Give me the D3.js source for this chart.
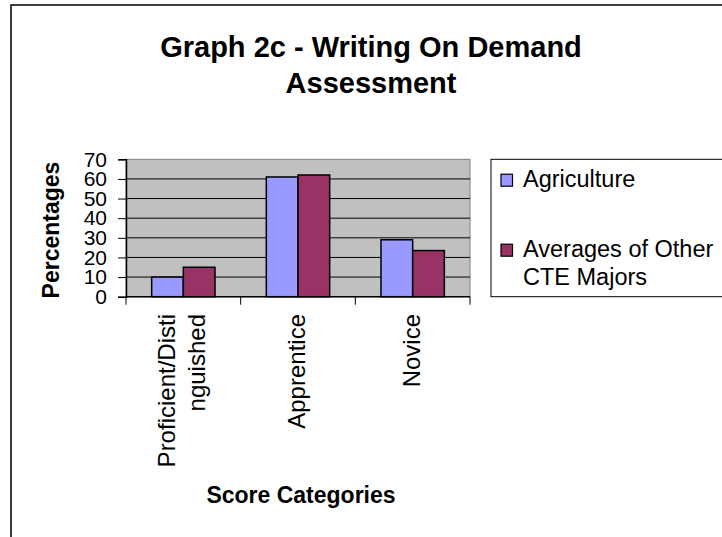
<!DOCTYPE html>
<html>
<head>
<meta charset="utf-8">
<script src="https://cdn.jsdelivr.net/npm/d3@7"></script>
<style>
  html, body { margin: 0; padding: 0; background: #fff; }
  svg { display: block; font-family: "Liberation Sans", Arial, sans-serif; }
</style>
</head>
<body>
<svg id="chart" width="722" height="537"></svg>
<script>
const categories = ["Proficient/Distinguished", "Apprentice", "Novice"];
const categoryLines = [["Proficient/Disti", "nguished"], ["Apprentice"], ["Novice"]];
const seriesNames = ["Agriculture", "Averages of Other CTE Majors"];
const legendLines = [["Agriculture"], ["Averages of Other", "CTE Majors"]];
const agriculture = [10, 61, 29];
const otherMajors = [15, 62, 23.5];
const yTicks = [0, 10, 20, 30, 40, 50, 60, 70];
const titleLines = ["Graph 2c - Writing On Demand", "Assessment"];
const yTitle = "Percentages";
const xTitle = "Score Categories";
const colors = ["#9999ff", "#993366"];

const svg = d3.select("#chart");

// Outer chart border (right/bottom outside the frame)
svg.append("rect")
  .attr("x", 11).attr("y", 5)
  .attr("width", 760).attr("height", 560)
  .attr("fill", "#fff").attr("stroke", "#000").attr("stroke-width", 1.5);

// Title
svg.append("g").selectAll("text").data(titleLines).join("text")
  .attr("x", 371)
  .attr("y", (d, i) => 56.7 + i * 36.6)
  .attr("text-anchor", "middle")
  .attr("font-weight", "bold")
  .attr("font-size", 29)
  .attr("fill", "#000")
  .text(d => d);

const plot = { left: 126, right: 470, top: 159.3, bottom: 296.7 };

const y = d3.scaleLinear().domain([0, 70]).range([plot.bottom, plot.top]);
const x0 = d3.scaleBand().domain(categories).range([plot.left, plot.right]).paddingInner(0).paddingOuter(0);
const x1 = d3.scaleBand().domain(seriesNames).range([0, x0.bandwidth()]).paddingInner(0).paddingOuter(0.81);

// Plot area background
svg.append("rect")
  .attr("x", plot.left).attr("y", plot.top)
  .attr("width", plot.right - plot.left).attr("height", plot.bottom - plot.top)
  .attr("fill", "#c0c0c0").attr("stroke", "#808080").attr("stroke-width", 1);

// Gridlines
svg.append("g").selectAll("line").data(yTicks.filter(t => t > 0 && t < 70)).join("line")
  .attr("x1", plot.left).attr("x2", plot.right)
  .attr("y1", d => y(d)).attr("y2", d => y(d))
  .attr("stroke", "#000").attr("stroke-width", 1);

// Bars
const seriesData = [agriculture, otherMajors];
const groups = svg.append("g").selectAll("g").data(categories).join("g")
  .attr("transform", d => `translate(${x0(d)},0)`);
groups.selectAll("rect").data((c, ci) => seriesNames.map((s, si) => ({ s, si, v: seriesData[si][ci] }))).join("rect")
  .attr("x", d => x1(d.s))
  .attr("width", x1.bandwidth())
  .attr("y", d => y(d.v))
  .attr("height", d => y(0) - y(d.v))
  .attr("fill", d => colors[d.si])
  .attr("stroke", "#000").attr("stroke-width", 1.5);

// Y axis
const yAxis = svg.append("g")
  .attr("transform", `translate(${plot.left},0)`)
  .call(d3.axisLeft(y).tickValues(yTicks).tickSize(8).tickPadding(11));
yAxis.select(".domain").attr("stroke", "#000").attr("stroke-width", 1.5);
yAxis.selectAll(".tick line").attr("stroke", "#000").attr("stroke-width", 1);
yAxis.selectAll(".tick text")
  .attr("font-family", "Liberation Sans, Arial, sans-serif")
  .attr("font-size", 21).attr("fill", "#000");

// X axis line and ticks at category boundaries
const xAxisG = svg.append("g");
xAxisG.append("line")
  .attr("x1", plot.left).attr("x2", plot.right)
  .attr("y1", plot.bottom).attr("y2", plot.bottom)
  .attr("stroke", "#000").attr("stroke-width", 1.5);
const boundaries = categories.map(c => x0(c)).concat([x0(categories[categories.length - 1]) + x0.bandwidth()]);
xAxisG.selectAll("line.tk").data(boundaries).join("line").attr("class", "tk")
  .attr("x1", d => d).attr("x2", d => d)
  .attr("y1", plot.bottom).attr("y2", plot.bottom + 8)
  .attr("stroke", "#000").attr("stroke-width", 1);

// Category labels (rotated)
const lineStep = 30;
categories.forEach((c, ci) => {
  const cx = x0(c) + x0.bandwidth() / 2;
  const lines = categoryLines[ci];
  lines.forEach((ln, li) => {
    const off = (li - (lines.length - 1) / 2) * lineStep;
    svg.append("text")
      .attr("transform", `translate(${cx + off + 7},314) rotate(-90)`)
      .attr("text-anchor", "end")
      .attr("font-size", 24)
      .attr("fill", "#000")
      .text(ln);
  });
});

// Axis titles
svg.append("text")
  .attr("transform", `translate(59,${(plot.top + plot.bottom) / 2 + 2}) rotate(-90)`)
  .attr("text-anchor", "middle")
  .attr("font-weight", "bold").attr("font-size", 23)
  .attr("fill", "#000")
  .text(yTitle);

svg.append("text")
  .attr("x", 301).attr("y", 503)
  .attr("text-anchor", "middle")
  .attr("font-weight", "bold").attr("font-size", 23)
  .attr("fill", "#000")
  .text(xTitle);

// Legend
const lg = svg.append("g");
lg.append("rect")
  .attr("x", 491).attr("y", 159.3)
  .attr("width", 260).attr("height", plot.bottom - 159.3)
  .attr("fill", "#fff").attr("stroke", "#000").attr("stroke-width", 1);
const legendBaselines = [186.7, 256.7];
seriesNames.forEach((s, i) => {
  const by = legendBaselines[i];
  lg.append("rect")
    .attr("x", 501).attr("y", by - 12.5)
    .attr("width", 11.5).attr("height", 12)
    .attr("fill", colors[i]).attr("stroke", "#000").attr("stroke-width", 1.2);
  legendLines[i].forEach((ln, li) => {
    lg.append("text")
      .attr("x", 523).attr("y", by + li * 28.3)
      .attr("font-size", 23.5)
      .attr("fill", "#000")
      .text(ln);
  });
});
</script>
</body>
</html>
